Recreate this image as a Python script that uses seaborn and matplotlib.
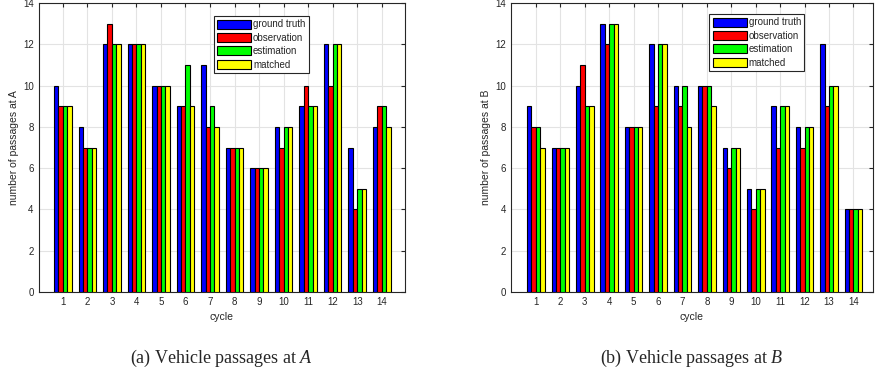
import numpy as np
import pandas as pd
import matplotlib
matplotlib.use("Agg")
import matplotlib.pyplot as plt
import seaborn as sns

# values
cycles = list(range(1, 15))
series = ["ground truth", "observation", "estimation", "matched"]
colors = ["#0000ff", "#ff0000", "#00ff00", "#ffff00"]

a_truth = [10, 8, 12, 12, 10, 9, 11, 7, 6, 8, 9, 12, 7, 8]
a_obs = [9, 7, 13, 12, 10, 9, 8, 7, 6, 7, 10, 10, 4, 9]
a_est = [9, 7, 12, 12, 10, 11, 9, 7, 6, 8, 9, 12, 5, 9]
a_match = [9, 7, 12, 12, 10, 9, 8, 7, 6, 8, 9, 12, 5, 8]

b_truth = [9, 7, 10, 13, 8, 12, 10, 10, 7, 5, 9, 8, 12, 4]
b_obs = [8, 7, 11, 12, 8, 9, 9, 10, 6, 4, 7, 7, 9, 4]
b_est = [8, 7, 9, 13, 8, 12, 10, 10, 7, 5, 9, 8, 10, 4]
b_match = [7, 7, 9, 13, 8, 12, 8, 9, 7, 5, 9, 8, 10, 4]


def to_long(cols):
    df = pd.DataFrame(dict(zip(series, cols)))
    df["cycle"] = cycles
    return df.melt(id_vars="cycle", var_name="series", value_name="count")


df_a = to_long([a_truth, a_obs, a_est, a_match])
df_b = to_long([b_truth, b_obs, b_est, b_match])

sns.set_style("white")
plt.rcParams["font.family"] = ["Liberation Sans", "DejaVu Sans"]
plt.rcParams["mathtext.fontset"] = "custom"
plt.rcParams["mathtext.it"] = "Liberation Serif:italic"
plt.rcParams["mathtext.rm"] = "Liberation Serif"

fig = plt.figure(figsize=(8.78, 3.79), dpi=100)
ax_a = fig.add_axes([0.0439, 0.2296, 0.4174, 0.7624])
ax_b = fig.add_axes([0.5817, 0.2296, 0.4126, 0.7624])

panels = [
    (ax_a, df_a, "A", (-0.99, 13.95), (0.478, 0.955), "(a) Vehicle passages at $\\it{A}$"),
    (ax_b, df_b, "B", (-1.03, 13.8), (0.548, 0.962), "(b) Vehicle passages at $\\it{B}$"),
]

for ax, df, site, xlim, leg_pos, caption in panels:
    sns.barplot(data=df, x="cycle", y="count", hue="series", hue_order=series,
                palette=colors, width=0.72, edgecolor="black", linewidth=0.8,
                saturation=1, ax=ax, zorder=3)
    ax.set_xlim(*xlim)
    ax.set_ylim(0, 14)
    ax.set_yticks(np.arange(0, 15, 2))
    ax.grid(True, color="#e3e3e3", linewidth=0.8, zorder=0)
    ax.set_axisbelow(True)
    ax.tick_params(axis="both", labelsize=7, direction="in", length=3,
                   top=True, right=True, colors="#262626")
    for sp in ax.spines.values():
        sp.set_color("#262626")
        sp.set_linewidth(0.8)
    ax.set_xlabel("cycle", fontsize=7.5, color="#262626")
    ax.set_ylabel("number of passages at " + site, fontsize=7.5, color="#262626",
                  labelpad=3)
    leg = ax.legend(loc="upper left", bbox_to_anchor=leg_pos, fontsize=7,
                    handlelength=3.5, handleheight=1.05, handletextpad=0.2,
                    labelspacing=0.35, borderpad=0.35, frameon=True,
                    fancybox=False, borderaxespad=0)
    leg.get_frame().set_edgecolor("#262626")
    leg.get_frame().set_linewidth(0.8)
    leg.get_frame().set_alpha(1)
    bbox = ax.get_position()
    fig.text(bbox.x0 + bbox.width / 2, 0.055, caption, ha="center",
             va="center", fontsize=13, family="Liberation Serif")

fig.savefig("out.png", dpi=100)
